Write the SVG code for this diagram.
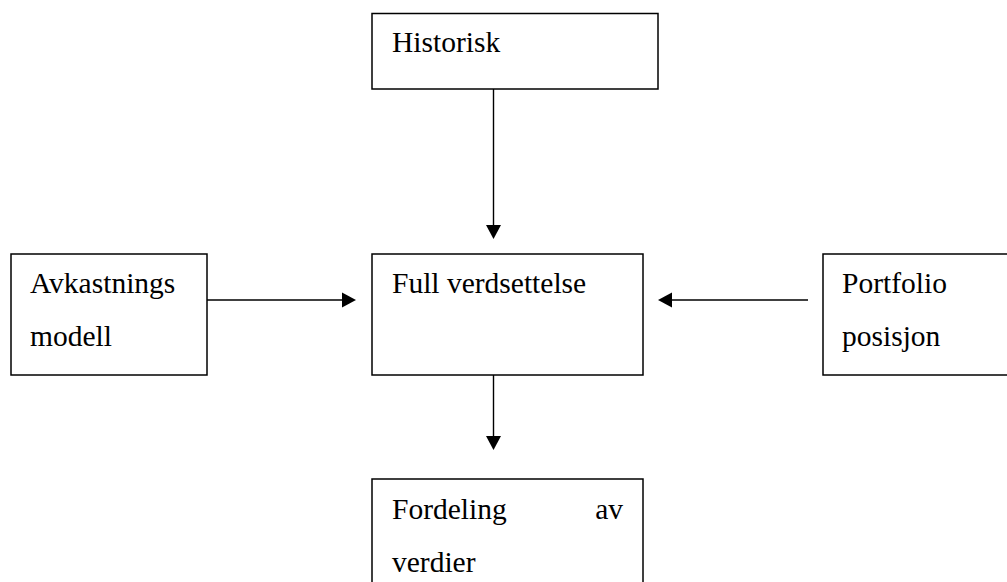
<svg xmlns="http://www.w3.org/2000/svg" width="1007" height="582" viewBox="0 0 1007 582">
  <style>
    .box { fill: #ffffff; stroke: #000000; stroke-width: 1.5; }
    .lbl { font-family: 'Liberation Serif', 'Times New Roman', Times, 'DejaVu Serif', serif; font-size: 29.5px; fill: #000000; }
    .edge { stroke: #000000; stroke-width: 1.4; fill: none; }
    .head { fill: #000000; stroke: none; }
  </style>
  <rect width="1007" height="582" fill="#ffffff"/>

  <!-- connectors -->
  <g id="connectors">
    <!-- Historisk -> Full verdsettelse -->
    <line class="edge" x1="493.5" y1="89" x2="493.5" y2="226"/>
    <polygon class="head" points="486,225 501,225 493.5,239"/>
    <!-- Avkastnings modell -> Full verdsettelse -->
    <line class="edge" x1="207" y1="300" x2="343" y2="300"/>
    <polygon class="head" points="342,292.5 342,307.5 356,300"/>
    <!-- Portfolio posisjon -> Full verdsettelse -->
    <line class="edge" x1="808" y1="300" x2="671" y2="300"/>
    <polygon class="head" points="672,292.5 672,307.5 658,300"/>
    <!-- Full verdsettelse -> Fordeling av verdier -->
    <line class="edge" x1="493.5" y1="375" x2="493.5" y2="437"/>
    <polygon class="head" points="486,436 501,436 493.5,450"/>
  </g>

  <g id="historisk">
    <rect class="box" x="372" y="13.5" width="286" height="75.5"/>
    <text class="lbl" x="392" y="52" font-family="Liberation Serif, serif">Historisk</text>
  </g>

  <g id="avkastningsmodell">
    <rect class="box" x="11" y="254" width="196" height="121"/>
    <text class="lbl" x="30" y="293">Avkastnings</text>
    <text class="lbl" x="30" y="346">modell</text>
  </g>

  <g id="full-verdsettelse">
    <rect class="box" x="372" y="254" width="271" height="121"/>
    <text class="lbl" x="392" y="293">Full verdsettelse</text>
  </g>

  <g id="portfolio-posisjon">
    <rect class="box" x="823" y="254" width="200" height="121"/>
    <text class="lbl" x="842" y="293">Portfolio</text>
    <text class="lbl" x="842" y="346">posisjon</text>
  </g>

  <g id="fordeling-av-verdier">
    <rect class="box" x="372" y="479" width="271" height="120"/>
    <text class="lbl" x="392" y="519">Fordeling</text>
    <text class="lbl" x="623" y="519" text-anchor="end">av</text>
    <text class="lbl" x="392" y="572">verdier</text>
  </g>
</svg>
